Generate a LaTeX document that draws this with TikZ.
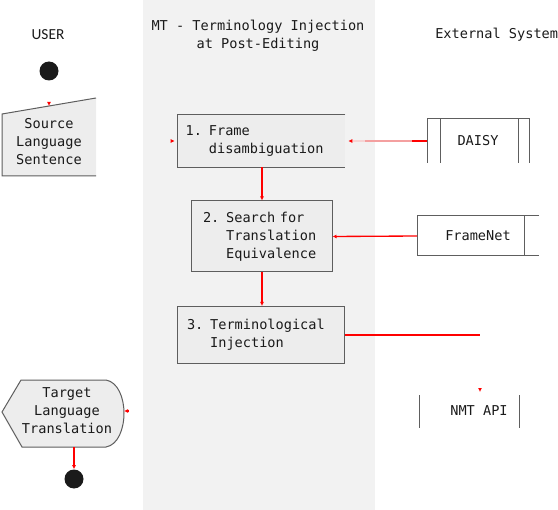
\documentclass[tikz,border=0pt]{standalone}
\usepackage{fontspec}
\setmonofont{DejaVu Sans Mono}
\newfontfamily\userfont{Carlito}
\usetikzlibrary{arrows.meta}
\definecolor{lane}{HTML}{F2F2F2}
\definecolor{boxfill}{HTML}{EDEDED}
\definecolor{edgegray}{HTML}{5E5E5E}
\definecolor{ink}{HTML}{1A1A1A}
\definecolor{arrowred}{HTML}{FF0000}
\definecolor{palered}{HTML}{F4A0A0}
\definecolor{faintred}{HTML}{F6D4D4}
\begin{document}
\begin{tikzpicture}[x=0.75pt,y=-0.75pt,
  txt/.style={font=\ttfamily\fontsize{10.2}{13.5}\selectfont, text=ink, inner sep=0pt},
  procfill/.style={txt, fill=boxfill, align=left, anchor=center, inner ysep=0pt},
  procbox/.style={procfill, draw=edgegray, line width=0.75pt},
  border/.style={draw=edgegray, line width=0.75pt},
  dot/.style={circle, fill=ink, minimum size=14.25pt, inner sep=0pt},
  conn/.style={draw=arrowred, line width=1pt, -{Latex[length=3pt,width=3pt,color=arrowred]}},
  redline/.style={draw=arrowred, line width=1pt}]
\useasboundingbox (0,0) rectangle (558,510);
\fill[lane] (143,0) rectangle (375,510);

% headers
\node[txt, align=center] (title) at (258,35.5) {MT - Terminology Injection\\at Post-Editing};
\node[font=\userfont\fontsize{11.5}{13}\selectfont, text=ink, inner sep=0pt] (user) at (48,35) {USER};
\node[txt, anchor=west] (ext) at (435,35) {External System};

% start
\node[dot] (s0) at (49,71) {};

% source sentence (manual input)
\fill[boxfill] (2,114) -- (96,98) -- (96,176) -- (2,176) -- cycle;
\draw[border] (96,98) -- (2,114) -- (2,176) -- (96,176);
\node[txt, align=center] (src) at (49,141.5) {Source\\Language\\Sentence};
\coordinate (srcTop) at (49,106);
\coordinate (srcE) at (96,141);

% process boxes
\node[procfill, minimum width=125.25pt, minimum height=39pt, text width=113.65pt, inner xsep=5.8pt] (b1) at (261.5,141)
  {1. Frame\\\hphantom{1. }disambiguation};
\draw[border] (b1.north east) -- (b1.north west) -- (b1.south west) -- (b1.south east);
\node[procbox, minimum width=105.75pt, minimum height=53.25pt, text width=87.75pt, inner xsep=9pt] (b2) at (261.5,236.5)
  {2. Search for\\\hphantom{2. }Translation\\\hphantom{2. }Equivalence};
\node[procbox, minimum width=125.25pt, minimum height=42.75pt, text width=110.25pt, inner xsep=7.5pt] (b3) at (260.5,335)
  {3. Terminological\\\hphantom{3. }Injection};
\coordinate (v1) at (262,0);

% external systems
\draw[border] (427,163) -- (427,119) -- (529,119) -- (529,163)
              (440,119) -- (440,163) (518,119) -- (518,163);
\node[txt] (daisy) at (478,141) {DAISY};
\coordinate (dW) at (427,141);
\coordinate (dM) at (412,141);
\coordinate (dL) at (365,141);

\draw[border] (539,216) -- (417,216) -- (417,256) -- (539,256) (524,216) -- (524,256);
\node[txt] (fn) at (478,236) {FrameNet};
\coordinate (fnW) at (417,236);

\draw[border] (419,395) -- (419,428) (519,395) -- (519,428);
\node[txt] (nmt) at (479,411) {NMT API};
\coordinate (nmtW) at (419,411);
\coordinate (nmtTop) at (480,395);
\coordinate (c1) at (480,335);

% target translation (display)
\filldraw[fill=boxfill, border] (2,412) -- (21,380) -- (106,380)
  .. controls (118,382) and (124,398) .. (124,413)
  .. controls (124,429) and (118,445) .. (106,447) -- (22,447) -- cycle;
\node[txt, align=center] (tgt) at (67,411) {Target\\Language\\Translation};
\coordinate (tgtE) at (124,411);
\coordinate (tgtS) at (74,447);
\node[dot] (e0) at (74,479) {};

% connectors
\draw[conn, shorten <=16.5pt] (s0.south) -- (srcTop);
\draw[conn, shorten <=57.75pt, shorten >=2.25pt] (srcE) -- (b1.west);
\draw[conn, draw=faintred, shorten >=2.25pt] (dW) -- (b1.east);
\draw[redline, draw=palered] (dM) -- (dL);
\draw[redline] (dW) -- (dM);
\draw[conn] (v1 |- b1.south) -- (v1 |- b2.north);
\draw[conn] (fnW) -- (b2.east);
\draw[conn] (v1 |- b2.south) -- (v1 |- b3.north);
\draw[redline] (b3.east) -- (c1);
\draw[conn, shorten <=41.25pt, shorten >=2.25pt] (c1) -- (nmtTop);
\draw[conn, shorten <=217.5pt] (nmtW) -- (tgtE);
\draw[conn] (tgtS) -- (e0.north);
\end{tikzpicture}
\end{document}
